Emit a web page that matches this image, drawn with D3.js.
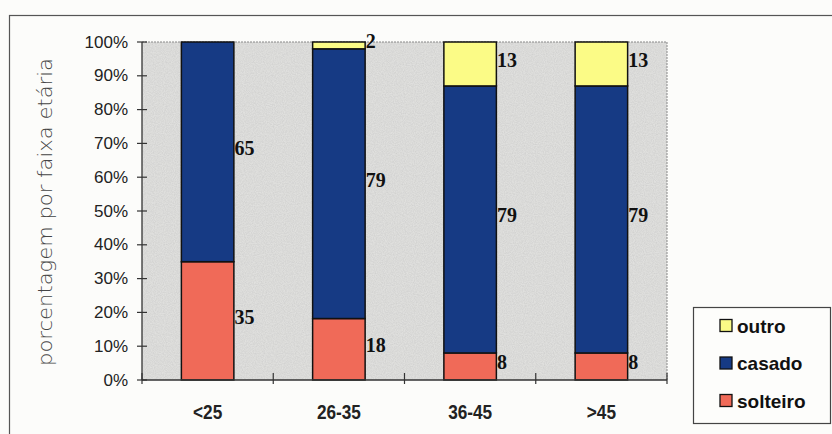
<!DOCTYPE html>
<html>
<head>
<meta charset="utf-8">
<script src="https://cdn.jsdelivr.net/npm/d3@7"></script>
<style>
  html, body { margin: 0; padding: 0; background: #fcfcfa; }
  svg { display: block; }
</style>
</head>
<body>
<div id="chart"></div>
<script>
// Faixas etárias e distribuição do estado civil (%)
const categories = ["<25", "26-35", "36-45", ">45"];
const solteiro = [35, 18, 8, 8];
const casado   = [65, 79, 79, 79];
const outro    = [0, 2, 13, 13];
const seriesNames = ["solteiro", "casado", "outro"];
const seriesColors = ["#f06a58", "#163a84", "#fbfb86"];
const yTicks = [0, 0.1, 0.2, 0.3, 0.4, 0.5, 0.6, 0.7, 0.8, 0.9, 1.0];
const yTitle = "porcentagem por faixa etária";

const W = 832, H = 434;
const margin = { left: 142, top: 42, right: 165, bottom: 54 };
const plotW = W - margin.left - margin.right;
const plotH = H - margin.top - margin.bottom;

const svg = d3.select("#chart").append("svg")
  .attr("width", W).attr("height", H);

// grain for the plot background
const defs = svg.append("defs");
const f = defs.append("filter").attr("id", "grain")
  .attr("x", 0).attr("y", 0).attr("width", 1).attr("height", 1);
f.append("feTurbulence").attr("type", "fractalNoise")
  .attr("baseFrequency", 0.9).attr("numOctaves", 2).attr("seed", 3).attr("result", "n");
f.append("feColorMatrix").attr("in", "n").attr("type", "matrix")
  .attr("values", "0 0 0 0 0.5  0 0 0 0 0.5  0 0 0 0 0.5  0 0 0 0.7 -0.18")
  .attr("result", "g");
f.append("feComposite").attr("in", "g").attr("in2", "SourceGraphic").attr("operator", "in").attr("result", "gi");
f.append("feMerge").call(m => {
  m.append("feMergeNode").attr("in", "SourceGraphic");
  m.append("feMergeNode").attr("in", "gi");
});

// outer frame
svg.append("rect")
  .attr("x", 9.5).attr("y", 15.5).attr("width", W + 20).attr("height", H + 20)
  .attr("fill", "none").attr("stroke", "#555").attr("stroke-width", 1.2);

const table = categories.map((c, i) => ({
  cat: c, solteiro: solteiro[i], casado: casado[i], outro: outro[i]
}));

const stack = d3.stack().keys(seriesNames).offset(d3.stackOffsetExpand);
const layers = stack(table);

const x = d3.scaleBand().domain(categories)
  .range([margin.left, margin.left + plotW]).paddingInner(0.6).paddingOuter(0.3);
const y = d3.scaleLinear().domain([0, 1]).range([margin.top + plotH, margin.top]);

// plot area
svg.append("rect")
  .attr("x", margin.left).attr("y", margin.top)
  .attr("width", plotW).attr("height", plotH)
  .attr("fill", "#e0e0de").attr("filter", "url(#grain)");
svg.append("path")
  .attr("d", `M${margin.left},${margin.top}H${margin.left + plotW}V${margin.top + plotH}`)
  .attr("fill", "none").attr("stroke", "#888").attr("stroke-width", 1)
  .attr("stroke-dasharray", "2,1");

// bars
const g = svg.append("g");
layers.forEach((layer, li) => {
  g.selectAll(null).data(layer.filter(d => d[1] - d[0] > 0)).enter().append("rect")
    .attr("x", d => x(d.data.cat))
    .attr("y", d => y(d[1]))
    .attr("width", x.bandwidth())
    .attr("height", d => y(d[0]) - y(d[1]))
    .attr("fill", seriesColors[li])
    .attr("stroke", "#111").attr("stroke-width", 1.5);
});

// value labels
layers.forEach((layer, li) => {
  g.selectAll(null).data(layer.filter(d => d.data[layer.key] > 0)).enter().append("text")
    .attr("x", d => x(d.data.cat) + x.bandwidth() + 0.5)
    .attr("y", d => (y(d[0]) + y(d[1])) / 2 - 4)
    .attr("dominant-baseline", "central")
    .attr("font-family", "'Liberation Serif', 'Times New Roman', serif")
    .attr("font-weight", "bold")
    .attr("font-size", 20)
    .attr("fill", "#111")
    .text(d => d.data[layer.key]);
});

// y axis
const yAxis = svg.append("g").attr("transform", `translate(${margin.left},0)`);
yAxis.append("line")
  .attr("x1", 0).attr("x2", 0).attr("y1", margin.top).attr("y2", margin.top + plotH)
  .attr("stroke", "#333").attr("stroke-width", 1.3);
yTicks.forEach(t => {
  yAxis.append("line").attr("x1", -5).attr("x2", 5)
    .attr("y1", y(t)).attr("y2", y(t)).attr("stroke", "#333").attr("stroke-width", 1.2);
  yAxis.append("text")
    .attr("x", -14).attr("y", y(t))
    .attr("text-anchor", "end").attr("dominant-baseline", "central")
    .attr("font-family", "'Liberation Sans', Arial, sans-serif")
    .attr("font-size", 17).attr("fill", "#222")
    .text(d3.format(".0%")(t));
});

// x axis
const baseY = margin.top + plotH;
svg.append("line")
  .attr("x1", margin.left).attr("x2", margin.left + plotW)
  .attr("y1", baseY).attr("y2", baseY)
  .attr("stroke", "#333").attr("stroke-width", 1.3);
const step = plotW / categories.length;
d3.range(categories.length + 1).forEach(i => {
  const xx = margin.left + i * step;
  svg.append("line").attr("x1", xx).attr("x2", xx)
    .attr("y1", baseY - 7).attr("y2", baseY + 4)
    .attr("stroke", "#333").attr("stroke-width", 1.2);
});
categories.forEach(c => {
  const cx = x(c) + x.bandwidth() / 2;
  svg.append("text")
    .attr("transform", `translate(${cx},${baseY + 32}) scale(0.82,1)`)
    .attr("text-anchor", "middle").attr("dominant-baseline", "central")
    .attr("font-family", "'Liberation Sans', Arial, sans-serif")
    .attr("font-weight", "bold").attr("font-size", 21).attr("fill", "#222")
    .text(c);
});

// y title
svg.append("text")
  .attr("transform", `translate(45,212) rotate(-90)`)
  .attr("x", 0).attr("y", 0)
  .attr("text-anchor", "middle").attr("dominant-baseline", "central")
  .attr("font-family", "'DejaVu Sans', 'Open Sans', sans-serif")
  .attr("font-weight", 200).attr("font-size", 19).attr("fill", "#444")
  .attr("textLength", 308).attr("lengthAdjust", "spacingAndGlyphs")
  .text(yTitle);

// legend
const legend = svg.append("g");
legend.append("rect")
  .attr("x", 693.5).attr("y", 307.5).attr("width", 137).attr("height", 116)
  .attr("fill", "#fdfdfb").attr("stroke", "#444").attr("stroke-width", 1.2);
const legendOrder = [2, 1, 0];
legendOrder.forEach((si, k) => {
  const cy = 326 + k * 37.5;
  legend.append("rect")
    .attr("x", 720).attr("y", cy - 6.5).attr("width", 12).attr("height", 12)
    .attr("fill", seriesColors[si]).attr("stroke", "#111").attr("stroke-width", 1.3);
  legend.append("text")
    .attr("x", 737).attr("y", cy)
    .attr("dominant-baseline", "central")
    .attr("font-family", "'Liberation Sans', Arial, sans-serif")
    .attr("font-weight", "bold").attr("font-size", 19).attr("fill", "#111")
    .text(seriesNames[si]);
});
</script>
</body>
</html>
